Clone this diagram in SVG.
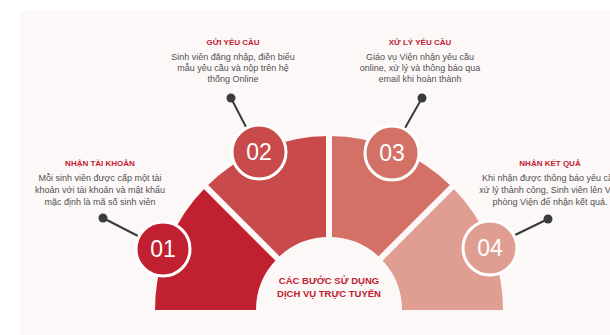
<svg xmlns="http://www.w3.org/2000/svg" width="610" height="335" viewBox="0 0 610 335">
<style>
.title{font-family:"Liberation Sans",Arial,sans-serif;font-weight:bold;font-size:8px;fill:#C0202F;text-anchor:middle}
.body{font-family:"Liberation Sans",Arial,sans-serif;font-size:9px;fill:#505050;text-anchor:middle}
.num{font-family:"Liberation Sans",Arial,sans-serif;font-size:23px;fill:#ffffff;text-anchor:middle}
.center{font-family:"Liberation Sans",Arial,sans-serif;font-weight:bold;font-size:9.5px;fill:#C0202F;text-anchor:middle}
.gap{stroke:#FDF8F8;stroke-width:6;fill:none}
.ring{stroke:#ffffff;stroke-width:3}
.conn{stroke:#3a3a3a;stroke-width:2;fill:none}
.dot{fill:#3a3a3a}
</style>
<rect width="610" height="335" fill="#ffffff"/>
<rect x="20" y="10" width="590" height="325" fill="#FDF8F8"/>
<g id="segments">
<path id="seg1" d="M155,310 A174,174 0 0 1 205.96,186.96 L277.38,258.38 A73,73 0 0 0 256,310 Z" fill="#C0202F"/>
<path id="seg2" d="M205.96,186.96 A174,174 0 0 1 329,136 L329,237 A73,73 0 0 0 277.38,258.38 Z" fill="#C94A4A"/>
<path id="seg3" d="M329,136 A174,174 0 0 1 452.04,186.96 L380.62,258.38 A73,73 0 0 0 329,237 Z" fill="#D47166"/>
<path id="seg4" d="M452.04,186.96 A174,174 0 0 1 503,310 L402,310 A73,73 0 0 0 380.62,258.38 Z" fill="#E09E93"/>
<line class="gap" x1="329" y1="130" x2="329" y2="240"/>
<line class="gap" x1="201" y1="182" x2="280" y2="261"/>
<line class="gap" x1="457" y1="182" x2="378" y2="261"/>
</g>
<g id="connectors">
<line class="conn" x1="103" y1="218" x2="138" y2="236"/>
<circle class="dot" cx="103" cy="218" r="4.5"/>
<line class="conn" x1="231" y1="98" x2="246" y2="127"/>
<circle class="dot" cx="231" cy="98" r="4.5"/>
<line class="conn" x1="422" y1="98" x2="405" y2="128"/>
<circle class="dot" cx="422" cy="98" r="4.5"/>
<line class="conn" x1="548" y1="219" x2="515" y2="235"/>
<circle class="dot" cx="548" cy="219" r="4.5"/>
</g>
<g id="node1">
<circle class="ring" cx="163" cy="249" r="27" fill="#C0202F"/>
<text class="num" x="163" y="257">01</text>
<text class="title" x="100" y="166">NHẬN TÀI KHOẢN</text>
<text class="body" x="100" y="181">Mỗi sinh viên được cấp một tài</text>
<text class="body" x="100" y="193">khoản với tài khoản và mật khẩu</text>
<text class="body" x="100" y="205">mặc định là mã số sinh viên</text>
</g>
<g id="node2">
<circle class="ring" cx="259" cy="152" r="27" fill="#C94A4A"/>
<text class="num" x="259" y="160">02</text>
<text class="title" x="233" y="45">GỬI YÊU CẦU</text>
<text class="body" x="233" y="60">Sinh viên đăng nhập, điền biểu</text>
<text class="body" x="233" y="71">mẫu yêu cầu và nộp trên hệ</text>
<text class="body" x="233" y="82">thống Online</text>
</g>
<g id="node3">
<circle class="ring" cx="392" cy="153" r="27" fill="#D47166"/>
<text class="num" x="392" y="161">03</text>
<text class="title" x="420" y="45">XỬ LÝ YÊU CẦU</text>
<text class="body" x="420" y="60">Giáo vụ Viện nhận yêu cầu</text>
<text class="body" x="420" y="71">online, xử lý và thông báo qua</text>
<text class="body" x="420" y="82">email khi hoàn thành</text>
</g>
<g id="node4">
<circle class="ring" cx="490" cy="248" r="27" fill="#E09E93"/>
<text class="num" x="490" y="256">04</text>
<text class="title" x="550" y="166">NHẬN KẾT QUẢ</text>
<text class="body" x="550" y="181">Khi nhận được thông báo yêu cầu</text>
<text class="body" x="550" y="193">xử lý thành công, Sinh viên lên Văn</text>
<text class="body" x="550" y="205">phòng Viện để nhận kết quả.</text>
</g>
<g id="center">
<text class="center" x="329" y="284">CÁC BƯỚC SỬ DỤNG</text>
<text class="center" x="329" y="297">DỊCH VỤ TRỰC TUYẾN</text>
</g>
</svg>
